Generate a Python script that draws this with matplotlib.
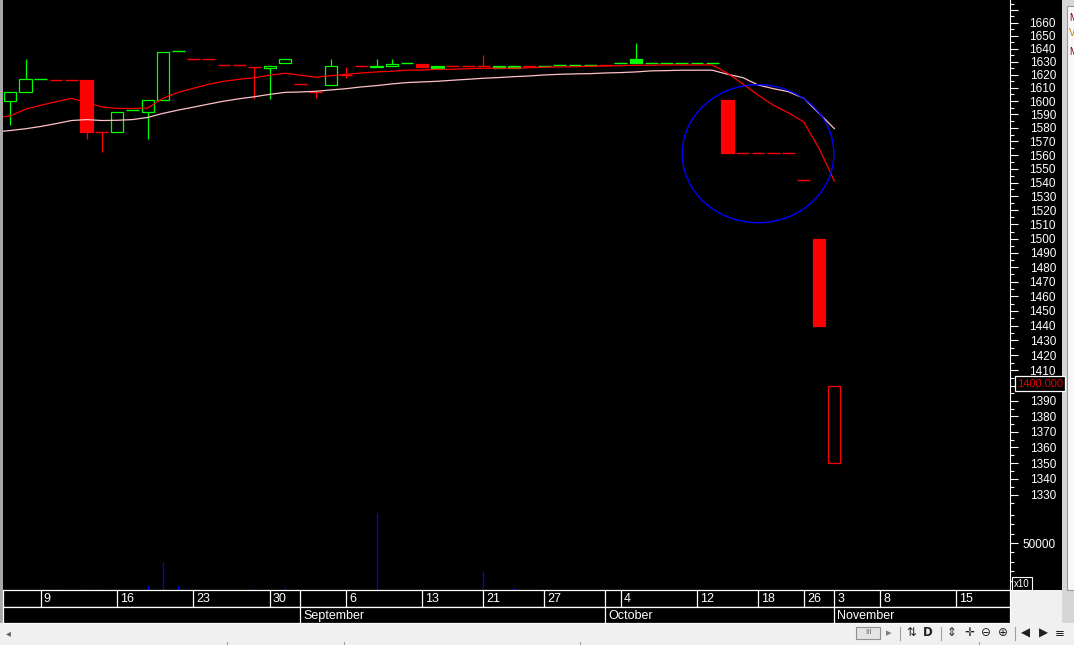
import numpy as np
import matplotlib
matplotlib.use('Agg')
import matplotlib.pyplot as plt
from matplotlib.patches import Rectangle, Ellipse
from matplotlib.transforms import ScaledTranslation
from matplotlib.ticker import NullFormatter

plt.rcParams['font.family'] = ['Liberation Sans', 'DejaVu Sans']

W, H, DPI = 1074, 645, 100
LW = 0.9  # thin screen line

# daily bars, index 0 = first session on screen
opens = [1600, 1607, 1617, 1616, 1616, 1616, 1577, 1577, 1593, 1592,
         1601, 1638, 1632, 1632, 1627, 1627, 1625.6, 1624.8, 1628.7, 1613,
         1607, 1612, 1620, 1626.4, 1626.6, 1626.4, 1628.7, 1628.1, 1626.6, 1626.4,
         1626.4, 1626.4, 1626.6, 1626.6, 1626.4, 1626.4, 1627.4, 1627.4, 1627.4, 1627.4,
         1628.7, 1632, 1628.7, 1628.7, 1628.7, 1628.7, 1628.7, 1600.8, 1561.5, 1561.5,
         1561.5, 1561.5, 1541.5, 1500, 1350]
highs = [1607, 1632, 1617, 1616, 1616, 1616, 1577, 1592, 1593, 1601,
         1637, 1638, 1632, 1632, 1627, 1627, 1625.6, 1626.4, 1631.7, 1613,
         1607, 1632, 1626.1, 1626.4, 1632, 1632, 1628.7, 1628.1, 1626.6, 1626.4,
         1626.4, 1635, 1626.6, 1626.6, 1626.4, 1626.4, 1627.4, 1627.4, 1627.4, 1627.4,
         1628.7, 1644, 1628.7, 1628.7, 1628.7, 1628.7, 1628.7, 1600.8, 1561.5, 1561.5,
         1561.5, 1561.5, 1541.5, 1500, 1400]
lows = [1582, 1607, 1617, 1616, 1616, 1572, 1562, 1577, 1593, 1572,
        1601, 1638, 1632, 1632, 1627, 1627, 1601.4, 1601.5, 1628.7, 1613,
        1602, 1612, 1617.2, 1626.4, 1625.6, 1626.4, 1628.7, 1626.2, 1625.3, 1626.4,
        1626.4, 1626.4, 1625.3, 1625.3, 1626.4, 1626.4, 1627.4, 1627.4, 1627.4, 1627.4,
        1628.7, 1628.7, 1628.7, 1628.7, 1628.7, 1628.7, 1628.7, 1561.5, 1561.5, 1561.5,
        1561.5, 1561.5, 1541.5, 1440, 1350]
closes = [1607, 1617, 1617, 1616, 1616, 1577, 1577, 1592, 1593, 1601,
          1637, 1638, 1632, 1632, 1627, 1627, 1625.6, 1626.4, 1631.7, 1613,
          1607, 1626.4, 1620, 1626.4, 1625.6, 1627.8, 1628.7, 1626.2, 1625.3, 1626.4,
          1626.4, 1626.4, 1625.3, 1625.3, 1626.4, 1626.4, 1627.4, 1627.4, 1627.4, 1627.4,
          1628.7, 1628.7, 1628.7, 1628.7, 1628.7, 1628.7, 1628.7, 1561.5, 1561.5, 1561.5,
          1561.5, 1561.5, 1541.5, 1440, 1400]
# 1 = up on the previous settle, 0 = down
up = [1, 1, 1, 0, 0, 0, 0, 1, 1, 1,
      1, 1, 0, 0, 0, 0, 0, 1, 1, 0,
      0, 1, 0, 0, 1, 1, 1, 0, 1, 0,
      0, 0, 1, 1, 0, 1, 1, 1, 1, 0,
      1, 1, 1, 1, 1, 1, 1, 0, 0, 0,
      0, 0, 0, 0, 0]
volume = [0, 0, 0, 1000, 0, 1000, 1000, 0, 0, 4300,
          30000, 4300, 0, 0, 0, 0, 1000, 0, 3000, 0,
          0, 0, 0, 0, 81600, 0, 0, 0, 0, 0,
          0, 20200, 0, 2000, 0, 0, 0, 0, 0, 0,
          0, 0, 0, 0, 0, 0, 0, 0, 0, 0,
          0, 0, 0, 0, 0]

# moving averages, starting one session before the first visible bar
ma_fast = [1587.6, 1588.9, 1594.0, 1596.9, 1599.6, 1602.1, 1598.8, 1595.7, 1594.5, 1594.5,
           1594.8, 1602.1, 1606.6, 1609.7, 1612.7, 1615.0, 1616.5, 1617.7, 1619.6, 1621.1,
           1619.6, 1618.1, 1619.2, 1620.2, 1621.3, 1622.1, 1622.6, 1623.4, 1623.6, 1624.1,
           1624.1, 1624.6, 1624.9, 1624.9, 1624.9, 1625.3, 1625.7, 1625.9, 1626.1, 1626.4,
           1626.6, 1626.9, 1627.2, 1627.2, 1627.4, 1627.4, 1627.4, 1627.4, 1621.1, 1613.0,
           1604.6, 1597.0, 1591.2, 1584.4, 1564.8, 1541.2]
ma_slow = [1577.0, 1578.1, 1579.4, 1581.1, 1583.2, 1585.5, 1586.2, 1585.5, 1585.7, 1586.2,
           1587.8, 1590.8, 1593.3, 1595.5, 1597.8, 1600.0, 1601.8, 1603.3, 1605.1, 1606.6,
           1606.9, 1607.4, 1608.4, 1609.4, 1610.7, 1611.7, 1613.0, 1614.0, 1614.5, 1615.0,
           1615.8, 1616.5, 1617.3, 1617.8, 1618.5, 1619.0, 1619.8, 1620.3, 1620.6, 1620.8,
           1621.3, 1621.6, 1622.1, 1622.9, 1623.1, 1623.4, 1623.4, 1623.4, 1620.3, 1617.8,
           1612.2, 1609.4, 1607.1, 1602.1, 1590.8, 1579.5]

date_idx = [2, 7, 12, 17, 22, 27, 31, 35, 40, 45, 49, 52, 54, 57, 62]
date_lbl = ['9', '16', '23', '30', '6', '13', '21', '27', '4', '12', '18', '26', '3', '8', '15']
month_idx = [19, 39, 54]
month_lbl = ['September', 'October', 'November']

circle_at = (49, 1561)   # hand drawn circle on the chart

XLIM = (-0.478, 65.51)

fig = plt.figure(figsize=(W / DPI, H / DPI), dpi=DPI, facecolor='#f0f0f0')


def px_axes(x0, y0, x1, y1, **kw):
    return fig.add_axes([x0 / W, 1 - y1 / H, (x1 - x0) / W, (y1 - y0) / H], **kw)


# window chrome behind everything
bg = fig.add_axes([0, 0, 1, 1], zorder=-5)
bg.set_xlim(0, W)
bg.set_ylim(H, 0)
bg.axis('off')
bg.add_patch(Rectangle((0, 0), 3, 623, fc='#a8a8a8', ec='none'))
bg.add_patch(Rectangle((1010, 0), 52, 590, fc='black', ec='none'))
bg.add_patch(Rectangle((1062, 0), 12, 623, fc='#d6d6d6', ec='none'))
bg.add_patch(Rectangle((1067, 6), 10, 584, fc='#f8f8f8', ec='#9a9a9a', lw=0.8))
for txt, yy, cc in [('M', 18, '#800000'), ('V', 33, '#b08000'), ('M', 52, '#800000')]:
    bg.text(1069, yy, txt, color=cc, fontsize=7, va='center', ha='left')

# price pane
ax = px_axes(3, 0, 1010, 590)
ax.set_facecolor('black')
ax.set_yscale('log')
ax.set_xlim(*XLIM)
ax.set_ylim(1271.9, 1677.8)

idx = np.arange(len(closes))
o = np.array(opens)
hi = np.array(highs)
lo = np.array(lows)
c = np.array(closes)
cols = np.where(np.array(up) == 1, '#00ff00', '#ff0000')

ax.vlines(idx, lo, hi, colors=cols, lw=LW, zorder=2)
for i in idx:
    if abs(c[i] - o[i]) < 0.05:
        ax.hlines(c[i], i - 0.42, i + 0.42, colors=cols[i], lw=1.0, zorder=3)
    else:
        filled = c[i] < o[i]
        ax.bar(i, abs(c[i] - o[i]), bottom=min(o[i], c[i]), width=0.8,
               facecolor=cols[i] if filled else 'black', edgecolor=cols[i], lw=LW, zorder=3)

ma_x = np.arange(-1, len(closes))
ax.plot(ma_x, ma_slow, color='#ffc0c8', lw=LW, zorder=4)
ax.plot(ma_x, ma_fast, color='#ff0000', lw=LW, zorder=4)

circ = Ellipse((0, 0), 151.6 / DPI, 138 / DPI,
               transform=fig.dpi_scale_trans + ScaledTranslation(circle_at[0], circle_at[1], ax.transData),
               fill=False, edgecolor='#0000ff', lw=1.0, zorder=5)
ax.add_patch(circ)

major = np.arange(1330, 1671, 10)
ax.yaxis.tick_right()
ax.set_yticks(major, [str(v) if v < 1670 else '' for v in major])
ax.set_yticks(np.arange(1325, 1676, 10), minor=True)
ax.yaxis.set_minor_formatter(NullFormatter())
ax.tick_params(axis='y', which='major', length=5.8, width=0.8, colors='white', labelsize=8.5, pad=27.3)
ax.tick_params(axis='y', which='minor', length=2.9, width=0.8, colors='white')
plt.setp(ax.get_yticklabels(), ha='right')
ax.tick_params(axis='x', which='both', bottom=False, labelbottom=False)
for s in ['top', 'left', 'bottom']:
    ax.spines[s].set_visible(False)
ax.spines['right'].set_color('white')
ax.spines['right'].set_linewidth(0.8)

ax.annotate('%.3f' % closes[-1], xy=(1, closes[-1]), xycoords=('axes fraction', 'data'),
            xytext=(7, 2), textcoords='offset pixels', ha='left', va='center',
            color='#e00000', fontsize=8, annotation_clip=False, zorder=10,
            bbox=dict(boxstyle='square,pad=0.22', fc='black', ec='white', lw=0.9))

# volume pane (shares the black area)
vax = px_axes(3, 500, 1010, 590)
vax.set_facecolor('none')
vax.set_xlim(*XLIM)
vax.set_ylim(0, 95745)
vax.vlines(idx, 0, volume, colors='#0000ff', lw=LW)
vax.yaxis.tick_right()
vax.set_yticks([50000], ['50000'])
vax.set_yticks([10000, 20000, 30000, 40000, 60000, 70000, 80000], minor=True)
vax.tick_params(axis='y', which='major', length=5.8, width=0.8, colors='white', labelsize=8.5, pad=27.3)
vax.tick_params(axis='y', which='minor', length=2.9, width=0.8, colors='white')
plt.setp(vax.get_yticklabels(), ha='right')
vax.tick_params(axis='x', which='both', bottom=False, labelbottom=False)
for s in vax.spines.values():
    s.set_visible(False)

# date and month rows
dax = px_axes(3, 590, 1010, 607)
max_ = px_axes(3, 607, 1010, 623)
off = ScaledTranslation(3 / DPI, 0, fig.dpi_scale_trans)
for row, divs, ticks, labels in [(dax, sorted(set(date_idx + month_idx)), date_idx, date_lbl),
                                 (max_, month_idx, month_idx, month_lbl)]:
    row.set_facecolor('black')
    row.set_xlim(*XLIM)
    row.set_ylim(0, 1)
    row.set_xticks([])
    row.set_yticks([])
    for s in row.spines.values():
        s.set_color('white')
        s.set_linewidth(0.9)
    row.vlines(divs, 0, 1, colors='white', lw=LW)
    for x, t in zip(ticks, labels):
        row.text(x, 0.45, t, color='white', fontsize=9, ha='left', va='center',
                 transform=row.transData + off)

# foreground chrome: volume multiplier box and toolbar
fg = fig.add_axes([0, 0, 1, 1], zorder=5)
fg.set_xlim(0, W)
fg.set_ylim(H, 0)
fg.axis('off')
fg.patch.set_alpha(0)
fg.add_patch(Rectangle((1012, 577), 20, 13, fc='black', ec='white', lw=0.8))
fg.text(1022, 584, 'x10', color='white', fontsize=7, ha='center', va='center')

fg.text(8, 633, '\u25c2', color='#606060', fontsize=7, ha='center', va='center', family='DejaVu Sans')
fg.add_patch(Rectangle((856, 627), 24, 12, fc='#e4e4e4', ec='#909090', lw=0.8))
fg.text(868, 633, 'III', color='#606060', fontsize=5.5, ha='center', va='center')
fg.text(889, 633, '\u25b8', color='#808080', fontsize=8, ha='center', va='center', family='DejaVu Sans')
for xs in [900, 941, 1015]:
    fg.plot([xs, xs], [627, 640], color='#a0a0a0', lw=0.8)
for xs in [227, 344, 580, 979]:
    fg.plot([xs, xs], [642, 645], color='#a0a0a0', lw=0.8)
icons = [(911, '\u21c5'), (927.6, 'D'), (952, '\u21d5'), (969, '\u271b'), (986, '\u2296'),
         (1003, '\u2295'), (1025, '\u25c0'), (1043, '\u25b6'), (1059.5, '\u2261')]
for xs, g in icons:
    fg.text(xs, 633, g, color='#202020', fontsize=8.5, ha='center', va='center',
            family='DejaVu Sans', fontweight='bold' if g == 'D' else 'normal')

fig.savefig('out.png', dpi=DPI, facecolor=fig.get_facecolor())
